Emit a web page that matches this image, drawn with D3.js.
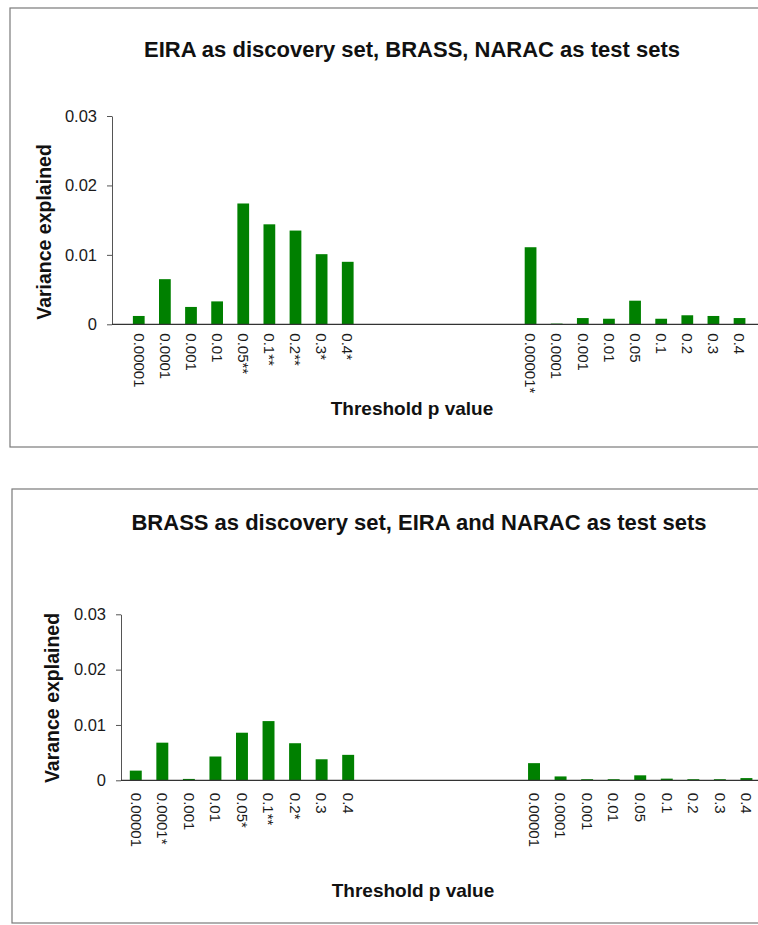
<!DOCTYPE html>
<html>
<head>
<meta charset="utf-8">
<script src="https://cdn.jsdelivr.net/npm/d3@7"></script>
<style>
  body { margin: 0; background: #fff; }
  text { font-family: "Liberation Sans", Arial, sans-serif; }
</style>
</head>
<body>
<script>
// threshold p values, labels carry the significance stars
const thresholds = ["0.00001", "0.0001", "0.001", "0.01", "0.05", "0.1", "0.2", "0.3", "0.4"];
const yTicks = [0, 0.01, 0.02, 0.03];
const gapSlots = 6;

const eiraTitle = "EIRA as discovery set, BRASS, NARAC as test sets";
const eiraLeftLabels = ["0.00001", "0.0001", "0.001", "0.01", "0.05**", "0.1**", "0.2**", "0.3*", "0.4*"];
const eiraLeftValues = [0.0012, 0.0065, 0.0025, 0.0033, 0.0174, 0.0144, 0.0135, 0.0101, 0.0090];
const eiraRightLabels = ["0.00001*", "0.0001", "0.001", "0.01", "0.05", "0.1", "0.2", "0.3", "0.4"];
const eiraRightValues = [0.0111, 0.0001, 0.0009, 0.0008, 0.0034, 0.0008, 0.0013, 0.0012, 0.0009];

const brassTitle = "BRASS as discovery set, EIRA and NARAC as test sets";
const brassLeftLabels = ["0.00001", "0.0001*", "0.001", "0.01", "0.05*", "0.1**", "0.2*", "0.3", "0.4"];
const brassLeftValues = [0.00175, 0.0068, 0.00025, 0.0043, 0.0086, 0.0107, 0.0067, 0.0038, 0.0046];
const brassRightLabels = thresholds;
const brassRightValues = [0.0031, 0.0007, 0.0002, 0.0002, 0.0009, 0.0003, 0.0002, 0.0002, 0.0004];

const width = 758, height = 925;

const svg = d3.select("body").append("svg")
    .attr("width", width)
    .attr("height", height);

function drawPanel(p)
{
  // slots: left group, empty gap, right group
  let rows = [];
  p.leftLabels.forEach((l, i) => rows.push({key: "L" + i, label: l, value: p.leftValues[i]}));
  d3.range(gapSlots).forEach(i => rows.push({key: "G" + i, label: "", value: null}));
  p.rightLabels.forEach((l, i) => rows.push({key: "R" + i, label: l, value: p.rightValues[i]}));

  let g = svg.append("g");

  g.append("rect")
    .attr("x", p.box[0]).attr("y", p.box[1])
    .attr("width", p.box[2]).attr("height", p.box[3])
    .attr("fill", "none")
    .attr("stroke", "#7a7a7a")
    .attr("stroke-width", 1.2);

  let xScale = d3.scaleBand()
      .domain(rows.map(d => d.key))
      .range(p.xRange)
      .paddingInner(0.55)
      .paddingOuter(0.275);
  let yScale = d3.scaleLinear()
      .domain([0, 0.03])
      .range(p.yRange);

  // y axis
  let yAxis = d3.axisLeft(yScale)
      .tickValues(yTicks)
      .tickSize(5)
      .tickSizeOuter(0)
      .tickPadding(p.yPad)
      .tickFormat(d => d === 0 ? "0" : d3.format(".2f")(d));
  let yg = g.append("g")
      .attr("transform", `translate(${p.axisX},0)`)
      .call(yAxis);
  yg.select(".domain").attr("stroke", "#555");
  yg.selectAll(".tick line").attr("stroke", "#555");
  yg.selectAll("text")
    .attr("font-size", "16.5px")
    .attr("fill", "#1a1a1a")
    .style("font-family", "'Liberation Sans', Arial, sans-serif");

  // bars
  g.append("g")
    .selectAll("rect")
    .data(rows.filter(d => d.value !== null))
    .enter()
    .append("rect")
    .attr("x", d => xScale(d.key))
    .attr("width", xScale.bandwidth())
    .attr("y", d => yScale(d.value))
    .attr("height", d => yScale(0) - yScale(d.value))
    .attr("fill", "#008000");

  // x axis line runs to the edge
  g.append("line")
    .attr("x1", p.axisX).attr("x2", width)
    .attr("y1", yScale(0)).attr("y2", yScale(0))
    .attr("stroke", "#333")
    .attr("stroke-width", 1.2);

  let xAxis = d3.axisBottom(xScale)
      .tickSize(0)
      .tickFormat(k => rows.find(d => d.key === k).label);
  let xg = g.append("g")
      .attr("transform", `translate(0,${yScale(0)})`)
      .call(xAxis);
  xg.select(".domain").remove();
  xg.selectAll("text")
    .attr("transform", "rotate(90)")
    .attr("x", p.xPad)
    .attr("y", 0)
    .attr("dy", "0.35em")
    .attr("text-anchor", "start")
    .attr("font-size", "15px")
    .attr("fill", "#1a1a1a")
    .style("font-family", "'Liberation Sans', Arial, sans-serif");

  g.append("text")
    .attr("x", p.titleX).attr("y", p.titleY)
    .attr("text-anchor", "middle")
    .attr("font-size", "22px")
    .attr("font-weight", "bold")
    .attr("fill", "#111")
    .text(p.title);

  g.append("text")
    .attr("x", p.xTitleX).attr("y", p.xTitleY)
    .attr("text-anchor", "middle")
    .attr("font-size", "19px")
    .attr("font-weight", "bold")
    .attr("fill", "#111")
    .text("Threshold p value");

  g.append("text")
    .attr("transform", `translate(${p.yTitleX},${p.yTitleY}) rotate(-90)`)
    .attr("text-anchor", "middle")
    .attr("font-size", "19.5px")
    .attr("font-weight", "bold")
    .attr("fill", "#111")
    .text(p.yTitle);
}

drawPanel({
  title: eiraTitle, yTitle: "Variance explained",
  leftLabels: eiraLeftLabels, leftValues: eiraLeftValues,
  rightLabels: eiraRightLabels, rightValues: eiraRightValues,
  box: [10, 8, 760, 439],
  xRange: [125.7, 752.6], yRange: [324.3, 116],
  axisX: 112, yPad: 10, xPad: 9,
  titleX: 412, titleY: 57,
  xTitleX: 412, xTitleY: 415,
  yTitleX: 51, yTitleY: 232
});

drawPanel({
  title: brassTitle, yTitle: "Varance explained",
  leftLabels: brassLeftLabels, leftValues: brassLeftValues,
  rightLabels: brassRightLabels, rightValues: brassRightValues,
  box: [12, 489, 760, 434],
  xRange: [122.5, 759.7], yRange: [780.3, 614.3],
  axisX: 121, yPad: 10, xPad: 12.5,
  titleX: 419, titleY: 530,
  xTitleX: 413, xTitleY: 897,
  yTitleX: 59, yTitleY: 698
});
</script>
</body>
</html>
